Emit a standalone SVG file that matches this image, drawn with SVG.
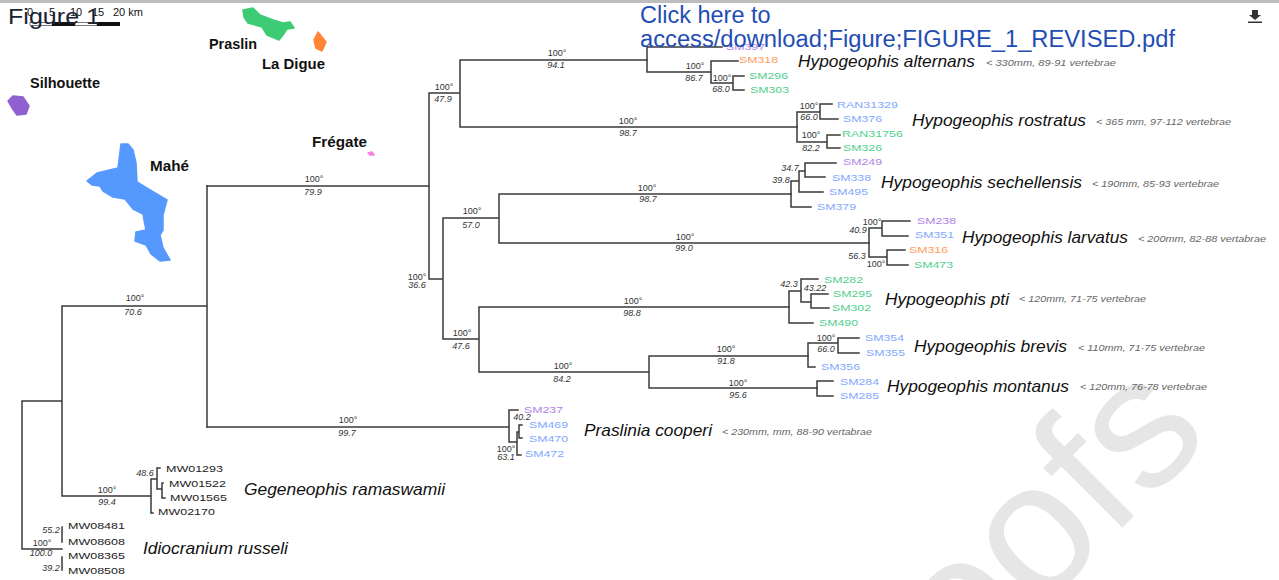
<svg xmlns="http://www.w3.org/2000/svg" width="1279" height="580" viewBox="0 0 1279 580">
<style>
text{font-family:"Liberation Sans",Arial,sans-serif}
.w{font-size:186px;fill:#e6e6e6;text-anchor:end}
.c{fill:none;stroke:#3a3a3a;stroke-width:1.5;stroke-linecap:square}
.l{font-size:8.5px}
.b{fill:#7fa8ff}.g{fill:#52d08c}.o{fill:#ff9a5c}.p{fill:#ae84e6}.k{fill:#222}
.s{font-size:17px;font-style:italic;fill:#111}
.n{font-size:9px;font-style:italic;fill:#666}
.t{font-size:9px;fill:#333;text-anchor:middle}
.i{font-size:9px;font-style:italic;fill:#333;text-anchor:middle}
.m{font-size:14px;font-weight:bold;fill:#111}
.y{font-size:11px;fill:#111}
.a{stroke-width:1.5;stroke-linejoin:round}
</style>
<rect width="1279" height="580" fill="#fff"/>
<rect width="1279" height="3" fill="#bdbdbd"/>
<text class="w" transform="translate(1213,437) rotate(-45)">Proofs</text>

<g id="map">
<path id="mahe" class="a" fill="#5599ff" stroke="#5599ff" d="M121 144L128 144L133 150L136 163L137 182L150 190L167 200L163 215L163 230L160 235L163 248L170 260L160 261L151 254L146 245L135 241L136 232L146 230L144 220L143 214L133 209L125 199L113 197L103 191L100 186L92 185L87 181L97 173L118 168Z"/>
<path id="praslin" class="a" fill="#3ecb75" stroke="#3ecb75" d="M243 10L253 8L260 15L273 20L283 23L290 22L294 28L287 29L283 35L279 40L267 35L262 27L248 23L244 17Z"/>
<path id="ladigue" class="a" fill="#ff8433" stroke="#ff8433" d="M318 32L326 42L322 51L316 48L314 40Z"/>
<path id="silhouette" class="a" fill="#9060d0" stroke="#9060d0" d="M8 101L13 96L23 97L29 106L26 114L17 115L12 108Z"/>
<path id="fregate" class="a" fill="#ff7be0" stroke="#ff7be0" d="M368 153L372 152L374 155L370 155Z"/>
<text class="m" x="209" y="49" textLength="48" lengthAdjust="spacingAndGlyphs">Praslin</text>
<text class="m" x="262" y="69" textLength="63" lengthAdjust="spacingAndGlyphs">La Digue</text>
<text class="m" x="30" y="88" textLength="70" lengthAdjust="spacingAndGlyphs">Silhouette</text>
<text class="m" x="312" y="147" textLength="55" lengthAdjust="spacingAndGlyphs">Frégate</text>
<text class="m" x="150" y="171" textLength="39" lengthAdjust="spacingAndGlyphs">Mahé</text>
</g>
<g id="scale">
<rect x="30" y="22.500" width="22" height="3" fill="#fff" stroke="#222" stroke-width=".6"/>
<rect x="52" y="22" width="23" height="4" fill="#111"/>
<rect x="75" y="22.500" width="22" height="3" fill="#fff" stroke="#222" stroke-width=".6"/>
<rect x="97" y="22" width="23" height="4" fill="#111"/>
<text class="y" x="27" y="16">0</text><text class="y" x="49" y="16">5</text><text class="y" x="70" y="16">10</text><text class="y" x="92" y="16">15</text><text class="y" x="113" y="16">20 km</text>
</g>

<g id="connectors">
<path class="c" d="M62 401H22V549H62M62 306V496M62 306H207M207 186V427M62 496H151M151 479V513M151 513H153M151 479H157M157 468V489M157 468H160M157 489H162M162 483V498M162 483H163M162 498H165"/>
<path class="c" d="M62 527V542M62 557V570"/>
<path class="c" d="M207 186H429M429 93V279M429 93H460M460 60V127M460 60H647M460 127H797M429 279H443M443 218V339M443 218H499M499 194V243M499 194H791M499 243H869M443 339H479M479 307V372M479 307H789M479 372H649M649 356V388M649 356H808M649 388H817"/>
<path class="c" d="M647 47V72M647 47H722M647 72H711M711 61V83M711 61H738M711 83H733M733 76V90M733 76H744M733 90H744"/>
<path class="c" d="M797 112V142M797 112H820M820 104V119M820 104H832M820 119H838M797 142H827M827 135V148M827 135H840M827 148H840"/>
<path class="c" d="M791 181V207M791 207H811M791 181H799M799 171V192M799 192H823M799 171H805M805 163V177M805 163H836M805 177H825"/>
<path class="c" d="M869 228V257M869 228H882M882 221V236M882 221H910M882 236H908M869 257H887M887 250V265M887 250H905M887 265H908"/>
<path class="c" d="M789 291V323M789 323H813M789 291H801M801 279V302M801 279H818M801 302H811M811 294V308M811 294H828M811 308H829"/>
<path class="c" d="M808 343V367M808 367H815M808 343H838M838 338V353M838 338H859M838 353H859"/>
<path class="c" d="M817 381V396M817 381H833M817 396H833"/>
<path class="c" d="M207 427H509M509 410V442M509 410H518M509 442H517M517 432V455M517 455H521M517 432H519M519 425V438M519 425H522M519 438H522"/>
</g>

<g id="leaves">
<g id="SM397"><text class="l p" x="726" y="50" textLength="39" lengthAdjust="spacingAndGlyphs">SM397</text></g>
<g id="SM318"><text class="l o" x="739" y="63" textLength="39" lengthAdjust="spacingAndGlyphs">SM318</text></g>
<g id="SM296"><text class="l g" x="749" y="79" textLength="39" lengthAdjust="spacingAndGlyphs">SM296</text></g>
<g id="SM303"><text class="l g" x="750" y="93" textLength="39" lengthAdjust="spacingAndGlyphs">SM303</text></g>
<g id="RAN31329"><text class="l b" x="837" y="108" textLength="61" lengthAdjust="spacingAndGlyphs">RAN31329</text></g>
<g id="SM376"><text class="l b" x="843" y="122" textLength="39" lengthAdjust="spacingAndGlyphs">SM376</text></g>
<g id="RAN31756"><text class="l g" x="842" y="137" textLength="61" lengthAdjust="spacingAndGlyphs">RAN31756</text></g>
<g id="SM326"><text class="l g" x="843" y="151" textLength="39" lengthAdjust="spacingAndGlyphs">SM326</text></g>
<g id="SM249"><text class="l p" x="843" y="165" textLength="39" lengthAdjust="spacingAndGlyphs">SM249</text></g>
<g id="SM338"><text class="l b" x="832" y="181" textLength="39" lengthAdjust="spacingAndGlyphs">SM338</text></g>
<g id="SM495"><text class="l b" x="829" y="195" textLength="39" lengthAdjust="spacingAndGlyphs">SM495</text></g>
<g id="SM379"><text class="l b" x="817" y="210" textLength="39" lengthAdjust="spacingAndGlyphs">SM379</text></g>
<g id="SM238"><text class="l p" x="917" y="224" textLength="39" lengthAdjust="spacingAndGlyphs">SM238</text></g>
<g id="SM351"><text class="l b" x="915" y="238" textLength="39" lengthAdjust="spacingAndGlyphs">SM351</text></g>
<g id="SM316"><text class="l o" x="909" y="253" textLength="39" lengthAdjust="spacingAndGlyphs">SM316</text></g>
<g id="SM473"><text class="l g" x="914" y="268" textLength="39" lengthAdjust="spacingAndGlyphs">SM473</text></g>
<g id="SM282"><text class="l g" x="824" y="283" textLength="39" lengthAdjust="spacingAndGlyphs">SM282</text></g>
<g id="SM295"><text class="l g" x="833" y="297" textLength="39" lengthAdjust="spacingAndGlyphs">SM295</text></g>
<g id="SM302"><text class="l g" x="832" y="311" textLength="39" lengthAdjust="spacingAndGlyphs">SM302</text></g>
<g id="SM490"><text class="l g" x="819" y="326" textLength="39" lengthAdjust="spacingAndGlyphs">SM490</text></g>
<g id="SM354"><text class="l b" x="865" y="341" textLength="39" lengthAdjust="spacingAndGlyphs">SM354</text></g>
<g id="SM355"><text class="l b" x="866" y="356" textLength="39" lengthAdjust="spacingAndGlyphs">SM355</text></g>
<g id="SM356"><text class="l b" x="821" y="370" textLength="39" lengthAdjust="spacingAndGlyphs">SM356</text></g>
<g id="SM284"><text class="l b" x="840" y="385" textLength="39" lengthAdjust="spacingAndGlyphs">SM284</text></g>
<g id="SM285"><text class="l b" x="840" y="399" textLength="39" lengthAdjust="spacingAndGlyphs">SM285</text></g>
<g id="SM237"><text class="l p" x="524" y="413" textLength="39" lengthAdjust="spacingAndGlyphs">SM237</text></g>
<g id="SM469"><text class="l b" x="529" y="428" textLength="39" lengthAdjust="spacingAndGlyphs">SM469</text></g>
<g id="SM470"><text class="l b" x="529" y="442" textLength="39" lengthAdjust="spacingAndGlyphs">SM470</text></g>
<g id="SM472"><text class="l b" x="525" y="457" textLength="39" lengthAdjust="spacingAndGlyphs">SM472</text></g>
<g id="MW01293"><text class="l k" x="166" y="472" textLength="57" lengthAdjust="spacingAndGlyphs">MW01293</text></g>
<g id="MW01522"><text class="l k" x="169" y="487" textLength="57" lengthAdjust="spacingAndGlyphs">MW01522</text></g>
<g id="MW01565"><text class="l k" x="170" y="501" textLength="57" lengthAdjust="spacingAndGlyphs">MW01565</text></g>
<g id="MW02170"><text class="l k" x="158" y="515" textLength="57" lengthAdjust="spacingAndGlyphs">MW02170</text></g>
<g id="MW08481"><text class="l k" x="68" y="529" textLength="57" lengthAdjust="spacingAndGlyphs">MW08481</text></g>
<g id="MW08608"><text class="l k" x="68" y="545" textLength="57" lengthAdjust="spacingAndGlyphs">MW08608</text></g>
<g id="MW08365"><text class="l k" x="68" y="559" textLength="57" lengthAdjust="spacingAndGlyphs">MW08365</text></g>
<g id="MW08508"><text class="l k" x="68" y="574" textLength="57" lengthAdjust="spacingAndGlyphs">MW08508</text></g>
</g>

<g id="species">
<text class="s" x="798" y="67" textLength="177" lengthAdjust="spacingAndGlyphs">Hypogeophis alternans</text>
<text class="s" x="912" y="126" textLength="174" lengthAdjust="spacingAndGlyphs">Hypogeophis rostratus</text>
<text class="s" x="881" y="188" textLength="201" lengthAdjust="spacingAndGlyphs">Hypogeophis sechellensis</text>
<text class="s" x="962" y="243" textLength="166" lengthAdjust="spacingAndGlyphs">Hypogeophis larvatus</text>
<text class="s" x="885" y="305" textLength="124" lengthAdjust="spacingAndGlyphs">Hypogeophis pti</text>
<text class="s" x="914" y="352" textLength="153" lengthAdjust="spacingAndGlyphs">Hypogeophis brevis</text>
<text class="s" x="887" y="392" textLength="182" lengthAdjust="spacingAndGlyphs">Hypogeophis montanus</text>
<text class="s" x="584" y="436" textLength="128" lengthAdjust="spacingAndGlyphs">Praslinia cooperi</text>
<text class="s" x="244" y="495" textLength="201" lengthAdjust="spacingAndGlyphs">Gegeneophis ramaswamii</text>
<text class="s" x="143" y="554" textLength="145" lengthAdjust="spacingAndGlyphs">Idiocranium russeli</text>
<text class="n" x="986" y="66" textLength="130" lengthAdjust="spacingAndGlyphs">&lt; 330mm, 89-91 vertebrae</text>
<text class="n" x="1096" y="125" textLength="135" lengthAdjust="spacingAndGlyphs">&lt; 365 mm, 97-112 vertebrae</text>
<text class="n" x="1092" y="187" textLength="127" lengthAdjust="spacingAndGlyphs">&lt; 190mm, 85-93 vertebrae</text>
<text class="n" x="1138" y="242" textLength="128" lengthAdjust="spacingAndGlyphs">&lt; 200mm, 82-88 vertabrae</text>
<text class="n" x="1019" y="302" textLength="127" lengthAdjust="spacingAndGlyphs">&lt; 120mm, 71-75 vertebrae</text>
<text class="n" x="1078" y="351" textLength="127" lengthAdjust="spacingAndGlyphs">&lt; 110mm, 71-75 vertebrae</text>
<text class="n" x="1080" y="390" textLength="127" lengthAdjust="spacingAndGlyphs">&lt; 120mm, 76-78 vertebrae</text>
<text class="n" x="722" y="435" textLength="150" lengthAdjust="spacingAndGlyphs">&lt; 230mm, mm, 88-90 vertabrae</text>
</g>

<g id="support">
<text class="t" x="314" y="182">100°</text><text class="i" x="313" y="195">79.9</text>
<text class="t" x="135" y="301">100°</text><text class="i" x="133" y="315">70.6</text>
<text class="t" x="444" y="90">100°</text><text class="i" x="443" y="102">47.9</text>
<text class="t" x="557" y="56">100°</text><text class="i" x="556" y="68">94.1</text>
<text class="t" x="628" y="124">100°</text><text class="i" x="628" y="136">98.7</text>
<text class="t" x="647" y="191">100°</text><text class="i" x="648" y="202">98.7</text>
<text class="t" x="685" y="240">100°</text><text class="i" x="684" y="251">99.0</text>
<text class="t" x="472" y="214">100°</text><text class="i" x="471" y="228">57.0</text>
<text class="t" x="417" y="280">100°</text><text class="i" x="417" y="288">36.6</text>
<text class="t" x="633" y="304">100°</text><text class="i" x="632" y="316">98.8</text>
<text class="t" x="462" y="336">100°</text><text class="i" x="461" y="349">47.6</text>
<text class="t" x="563" y="369">100°</text><text class="i" x="562" y="382">84.2</text>
<text class="t" x="726" y="352">100°</text><text class="i" x="726" y="364">91.8</text>
<text class="t" x="738" y="386">100°</text><text class="i" x="738" y="398">95.6</text>
<text class="t" x="348" y="423">100°</text><text class="i" x="347" y="436">99.7</text>
<text class="t" x="107" y="493">100°</text><text class="i" x="107" y="505">99.4</text>
<text class="i" x="145" y="476">48.6</text>
<text class="i" x="51" y="533">55.2</text>
<text class="t" x="42" y="546">100°</text><text class="i" x="41" y="556">100.0</text>
<text class="i" x="51" y="571">39.2</text>
<text class="t" x="695" y="69">100°</text><text class="i" x="694" y="81">86.7</text>
<text class="t" x="722" y="81">100°</text><text class="i" x="721" y="92">68.0</text>
<text class="t" x="809" y="109">100°</text><text class="i" x="809" y="120">66.0</text>
<text class="t" x="811" y="138">100°</text><text class="i" x="811" y="151">82.2</text>
<text class="i" x="790" y="171">34.7</text><text class="i" x="781" y="183">39.8</text>
<text class="i" x="858" y="233">40.9</text><text class="t" x="872" y="225">100°</text>
<text class="i" x="857" y="259">56.3</text><text class="t" x="876" y="267">100°</text>
<text class="i" x="789" y="287">42.3</text><text class="i" x="815" y="291">43.22</text>
<text class="t" x="826" y="341">100°</text><text class="i" x="826" y="352">66.0</text>
<text class="i" x="522" y="420">40.2</text>
<text class="t" x="506" y="452">100°</text><text class="i" x="506" y="460">63.1</text>
</g>

<g id="overlay">
<text x="8" y="24" font-size="22" fill="#1b2333" textLength="92" lengthAdjust="spacingAndGlyphs">Figure 1</text>
<text x="640" y="23" font-size="23.500" fill="#1f4db5">Click here to</text>
<text x="640" y="47" font-size="23.500" fill="#1f4db5" textLength="535" lengthAdjust="spacingAndGlyphs">access/download;Figure;FIGURE_1_REVISED.pdf</text>
<path d="M1252 10H1258V15H1261L1255 20L1249 15H1252ZM1248 21.500H1262V23H1248Z" fill="#333"/>
</g>
</svg>
